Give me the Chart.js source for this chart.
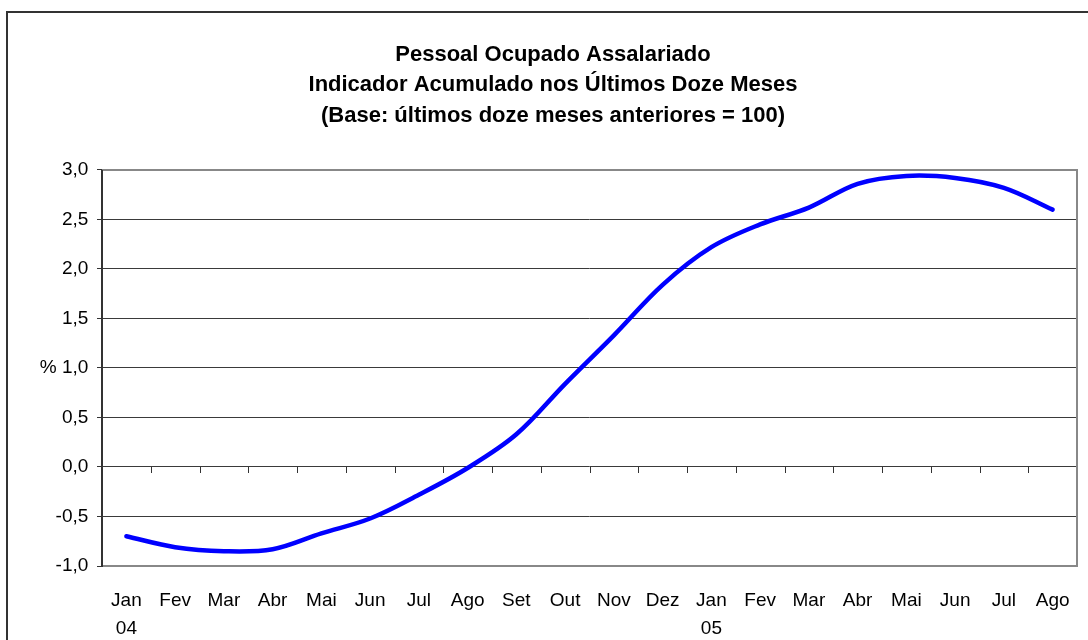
<!DOCTYPE html>
<html>
<head>
<meta charset="utf-8">
<script src="https://cdn.jsdelivr.net/npm/chart.js@4/dist/chart.umd.min.js"></script>
<style>
  html, body { margin: 0; padding: 0; background: #fff; overflow: hidden; width: 1088px; height: 640px; }
  #frame { position: absolute; left: 6px; top: 11px; width: 1200px; height: 800px; border: 2px solid #333; box-sizing: border-box; }
  #wrap { position: absolute; left: 0; top: 0; width: 1106px; height: 660px; }
</style>
</head>
<body>
<div id="frame"></div>
<div id="wrap"><canvas id="c" width="1106" height="660"></canvas></div>
<script>
const titleLines = [
  "Pessoal Ocupado Assalariado",
  "Indicador Acumulado nos Últimos Doze Meses",
  "(Base: últimos doze meses anteriores = 100)"
];
const months = ["Jan","Fev","Mar","Abr","Mai","Jun","Jul","Ago","Set","Out","Nov","Dez",
                "Jan","Fev","Mar","Abr","Mai","Jun","Jul","Ago"];
const years  = ["04","","","","","","","","","","","",
                "05","","","","","","",""];
const values = [-0.70,-0.81,-0.85,-0.83,-0.67,-0.52,-0.28,-0.01,0.33,0.84,1.33,1.84,
                2.22,2.45,2.62,2.86,2.94,2.92,2.82,2.60];
const yTickValues = [-1,-0.5,0,0.5,1,1.5,2,2.5,3];
const yTickLabels = ["-1,0","-0,5","0,0","0,5","% 1,0","1,5","2,0","2,5","3,0"];

const FONT = "'Liberation Sans', Arial, sans-serif";
const labels = months.map((m, i) => years[i] ? [m, years[i]] : [m]);

const framePlugin = {
  id: 'frame',
  beforeDatasetsDraw(chart) {
    const { ctx, chartArea: a, scales: { x, y } } = chart;
    ctx.save();
    ctx.strokeStyle = '#888';
    ctx.lineWidth = 2;
    ctx.beginPath();
    ctx.moveTo(a.left, a.top);
    ctx.lineTo(a.right, a.top);
    ctx.lineTo(a.right, a.bottom);
    ctx.lineTo(a.left, a.bottom);
    ctx.stroke();
    const y0 = Math.round(y.getPixelForValue(0));
    ctx.strokeStyle = '#333';
    ctx.lineWidth = 1;
    ctx.beginPath();
    for (let i = 1; i < months.length; i++) {
      const px = Math.round((x.getPixelForValue(i - 1) + x.getPixelForValue(i)) / 2) + 0.5;
      ctx.moveTo(px, y0);
      ctx.lineTo(px, y0 + 6);
    }
    ctx.stroke();
    ctx.strokeStyle = '#333';
    ctx.lineWidth = 2;
    ctx.beginPath();
    ctx.moveTo(a.left, a.top);
    ctx.lineTo(a.left, a.bottom + 1);
    ctx.stroke();
    ctx.restore();
  }
};

new Chart(document.getElementById('c'), {
  type: 'line',
  data: {
    labels: labels,
    datasets: [{
      data: values,
      borderColor: '#0000FF',
      borderWidth: 4.5,
      borderCapStyle: 'round',
      borderJoinStyle: 'round',
      pointRadius: 0,
      tension: 0.35,
      fill: false
    }]
  },
  options: {
    responsive: false,
    animation: false,
    devicePixelRatio: 1,
    layout: { padding: { left: 29, right: 29, top: 0, bottom: 14 } },
    plugins: {
      legend: { display: false },
      tooltip: { enabled: false },
      title: {
        display: true,
        text: titleLines,
        color: '#000',
        font: { family: FONT, size: 22, weight: 'bold', lineHeight: 1.386 },
        padding: { top: 39.5, bottom: 39 }
      }
    },
    scales: {
      x: {
        type: 'category',
        offset: true,
        grid: { display: false, drawTicks: false, offset: true },
        border: { display: false },
        ticks: {
          color: '#000',
          font: { family: FONT, size: 19, lineHeight: 1.44 },
          padding: 21.3,
          maxRotation: 0,
          autoSkip: false
        },
        afterFit(s) { s.height = 80; }
      },
      y: {
        min: -1,
        max: 3,
        afterBuildTicks(s) { s.ticks = yTickValues.map(v => ({ value: v })); },
        grid: {
          color: (c) => (c.tick && (c.tick.value === 3 || c.tick.value === -1)) ? 'rgba(0,0,0,0)' : '#3a3a3a',
          tickColor: '#333',
          tickLength: 5,
          lineWidth: 1
        },
        border: { display: false },
        ticks: {
          color: '#000',
          font: { family: FONT, size: 19 },
          padding: 8.7,
          callback: (v) => {
            const i = yTickValues.indexOf(Math.round(v * 2) / 2);
            return i >= 0 ? yTickLabels[i] : '';
          }
        },
        afterFit(s) { s.width = 73; }
      }
    }
  },
  plugins: [framePlugin]
});
</script>
</body>
</html>
